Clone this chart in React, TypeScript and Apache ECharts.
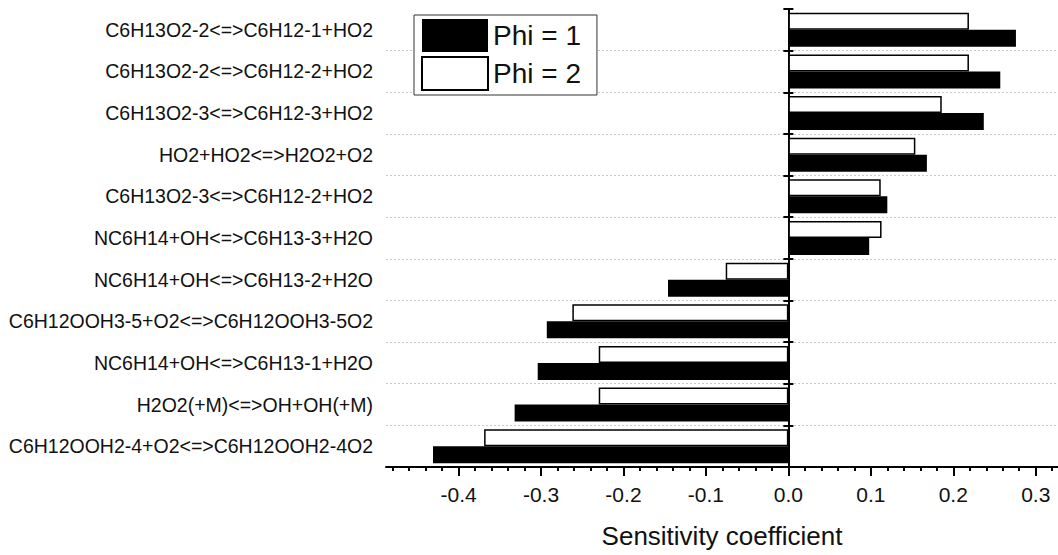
import React, { useEffect, useRef } from "react";
import * as echarts from "echarts";

const categories = [
  "C6H13O2-2<=>C6H12-1+HO2",
  "C6H13O2-2<=>C6H12-2+HO2",
  "C6H13O2-3<=>C6H12-3+HO2",
  "HO2+HO2<=>H2O2+O2",
  "C6H13O2-3<=>C6H12-2+HO2",
  "NC6H14+OH<=>C6H13-3+H2O",
  "NC6H14+OH<=>C6H13-2+H2O",
  "C6H12OOH3-5+O2<=>C6H12OOH3-5O2",
  "NC6H14+OH<=>C6H13-1+H2O",
  "H2O2(+M)<=>OH+OH(+M)",
  "C6H12OOH2-4+O2<=>C6H12OOH2-4O2",
];

const phi1 = [0.276, 0.257, 0.237, 0.168, 0.12, 0.098, -0.146, -0.293, -0.304, -0.332, -0.431];
const phi2 = [0.219, 0.219, 0.186, 0.154, 0.112, 0.113, -0.076, -0.262, -0.23, -0.23, -0.369];

const majorTicks = [-0.4, -0.3, -0.2, -0.1, 0.0, 0.1, 0.2, 0.3];
const minorTicks: number[] = [];
for (let i = -24; i <= 16; i++) {
  if (i % 5 !== 0) minorTicks.push(Math.round(i * 2) / 100);
}

const X_MIN = -0.488;
const X_MAX = 0.327;
const FONT = "'Liberation Sans', Arial, sans-serif";

export default function App() {
  const ref = useRef<HTMLDivElement>(null);
  useEffect(() => {
    if (!ref.current) return;
    const chart = echarts.init(ref.current, undefined, { renderer: "svg" });
    const gridHeight = 555 - 9 - 88;
    chart.setOption({
      animation: false,
      backgroundColor: "#fff",
      textStyle: { fontFamily: FONT },
      grid: { left: 386, right: 0, top: 9, bottom: 88, containLabel: false, outerBoundsMode: "none" },
      legend: {
        data: ["Phi = 1", "Phi = 2"],
        orient: "vertical",
        left: 414,
        top: 15,
        itemWidth: 66,
        itemHeight: 33,
        itemGap: 4,
        padding: [4, 16, 4, 7],
        borderColor: "#333",
        borderWidth: 1,
        backgroundColor: "#fff",
        icon: "rect",
        textStyle: { fontSize: 28, color: "#111", fontFamily: FONT },
      },
      xAxis: [
        {
          type: "value",
          min: X_MIN,
          max: X_MAX,
          position: "bottom",
          name: "Sensitivity coefficient",
          nameLocation: "middle",
          nameGap: 56,
          nameTextStyle: { fontSize: 26, color: "#111", fontFamily: FONT },
          axisLine: { show: true, lineStyle: { color: "#000", width: 2 } },
          axisTick: { show: true, customValues: majorTicks, length: 9, lineStyle: { color: "#000", width: 2 } },
          axisLabel: {
            customValues: majorTicks,
            fontSize: 21,
            color: "#111",
            margin: 17,
            fontFamily: FONT,
            formatter: (v: number) => v.toFixed(1),
          },
          splitLine: { show: false },
        },
        {
          type: "value",
          min: X_MIN,
          max: X_MAX,
          position: "top",
          offset: -gridHeight,
          axisLine: { show: false },
          axisTick: { show: true, inside: true, customValues: minorTicks, length: 4, lineStyle: { color: "#000", width: 2 } },
          axisLabel: { show: false },
          splitLine: { show: false },
        },
      ],
      yAxis: [
        {
          type: "category",
          data: categories,
          inverse: true,
          position: "left",
          axisLine: { show: true, onZero: true, lineStyle: { color: "#000", width: 2 } },
          axisTick: { show: true, length: 5, lineStyle: { color: "#000", width: 2 } },
          axisLabel: { fontSize: 19.5, color: "#111", margin: 13, fontFamily: FONT },
          splitLine: {
            show: true,
            showMinLine: false,
            showMaxLine: false,
            lineStyle: { color: "#c8c8c8", type: [2, 2], width: 1 },
          },
        },
        {
          type: "category",
          data: categories,
          inverse: true,
          position: "right",
          axisLine: { show: true, onZero: true, lineStyle: { color: "#000", width: 2 } },
          axisTick: { show: true, length: 5, lineStyle: { color: "#000", width: 2 } },
          axisLabel: { show: false },
          splitLine: { show: false },
        },
      ],
      series: [
        {
          name: "Phi = 2",
          type: "bar",
          data: phi2,
          barWidth: 17,
          barGap: "0%",
          itemStyle: { color: "#fff", borderColor: "#000", borderWidth: 1.5 },
        },
        {
          name: "Phi = 1",
          type: "bar",
          data: phi1,
          barWidth: 17,
          barGap: "0%",
          itemStyle: { color: "#000", borderColor: "#000", borderWidth: 0 },
        },
      ],
    });
    return () => chart.dispose();
  }, []);
  return (
    <div
      ref={ref}
      style={{ position: "fixed", left: 0, top: 0, width: 1058, height: 555, background: "#fff" }}
    />
  );
}
